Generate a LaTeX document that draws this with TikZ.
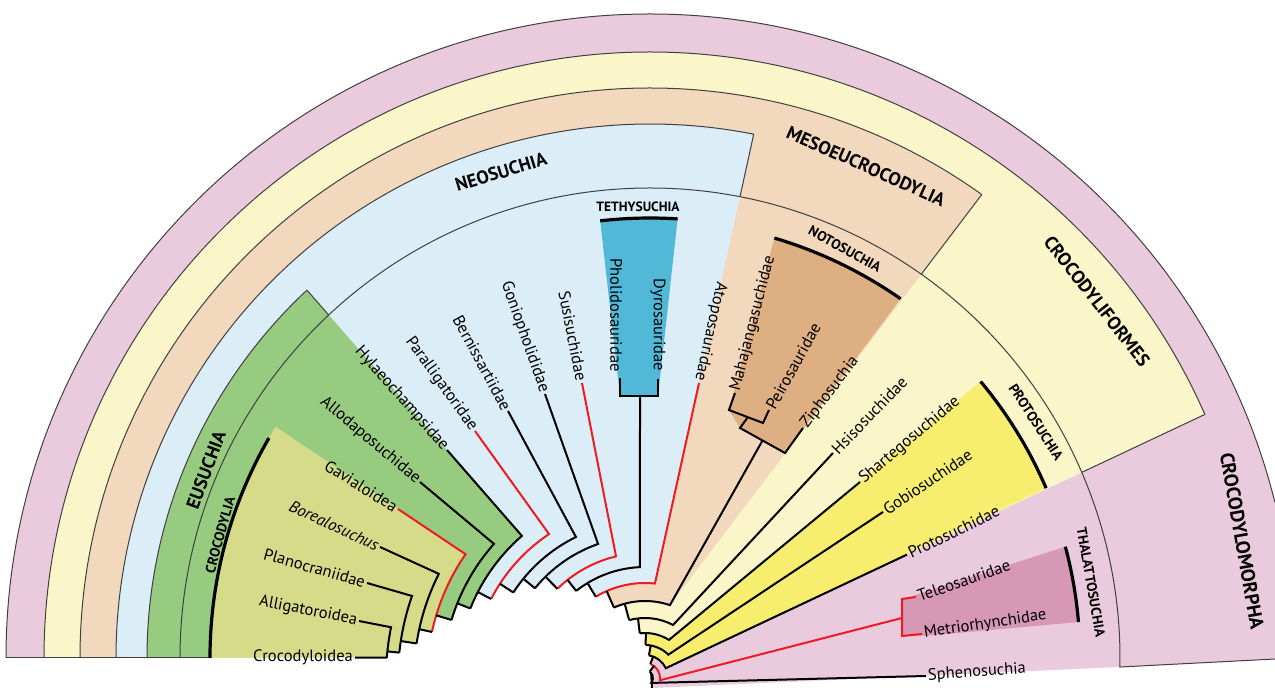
\documentclass[tikz,border=0pt]{standalone}
\usepackage{fontspec}
\setmainfont{PT Sans}
\definecolor{pinkC}{RGB}{234,203,221}
\definecolor{lyelC}{RGB}{250,246,201}
\definecolor{tanC}{RGB}{242,216,188}
\definecolor{blueC}{RGB}{219,237,247}
\definecolor{greenC}{RGB}{150,203,128}
\definecolor{ygC}{RGB}{214,219,137}
\definecolor{tethC}{RGB}{82,184,216}
\definecolor{notoC}{RGB}{222,175,130}
\definecolor{protoC}{RGB}{247,237,110}
\definecolor{thalC}{RGB}{214,152,181}
\definecolor{redC}{RGB}{237,28,36}
\tikzset{
  tx/.style={font=\fontsize{16.5}{16.5}\selectfont, inner sep=2pt},
  hd/.style={font=\bfseries\fontsize{18.5}{18.5}\selectfont, inner sep=0pt},
  hs/.style={font=\bfseries\fontsize{14}{14}\selectfont, inner sep=0pt},
  tree/.style={line width=2pt, line join=miter},
  rtree/.style={tree, draw=redC},
  edge/.style={line width=1pt, draw=black!75},
  bar/.style={line width=3.2pt},
}
\begin{document}
\begin{tikzpicture}[x=1pt,y=1pt]
\useasboundingbox (0,0) rectangle (1275,688);
\coordinate (O) at (650,30);
\coordinate (C) at (645,10);
% ---- coordinates around the outer centre O
\begin{scope}[shift={(650,30)}]
 \coordinate (P644) at (180:644);
 \coordinate (P606) at (180:606);
 \coordinate (P570) at (180:570);
 \coordinate (P534) at (180:534);
 \coordinate (P503) at (180:503);
 \coordinate (P470) at (180:470);
 \coordinate (P440) at (180:440);
 \coordinate (cYel) at (23.7:606);
 \coordinate (cTan) at (54.4:570);
 \coordinate (cBlue) at (78.8:534);
 \coordinate (cGreen) at (133:503);
 \coordinate (cYG) at (148.3:440);
 \coordinate (cCroc) at (150:440);
 \coordinate (T1) at (96.5:440);
 \coordinate (N1) at (73.5:438);
 \coordinate (PS1) at (39.9:431);
 \coordinate (H1) at (15:430);
 \coordinate (Rend) at (-1.1:470);
\end{scope}
% ---- tree elbows around the tree centre C
\begin{scope}[shift={(645,10)}]
 \coordinate (e1) at (175.5:259);
 \coordinate (e2) at (168.7:259);
 \coordinate (e3) at (160.6:247);
 \coordinate (e4) at (153.2:231);
 \coordinate (e5) at (145.4:218);
 \coordinate (e6) at (138.4:202);
 \coordinate (e7) at (130.9:188);
 \coordinate (e8) at (123.7:173);
 \coordinate (e9) at (116.1:157);
 \coordinate (e10) at (109.3:142);
 \coordinate (e11) at (103.4:125);
 \coordinate (e12) at (92.6:111);
 \coordinate (e13) at (84:95);
 \coordinate (e14) at (71.1:77);
 \coordinate (e15) at (62.1:60);
 \coordinate (e16) at (57.8:45);
 \coordinate (e16b) at (96.7:45);
 \coordinate (e17) at (45:33);
 \coordinate (e18) at (25.2:23);
 \coordinate (e19) at (-8.7:15);
 \coordinate (e20) at (-38:8);
\end{scope}
% ---- tips
\coordinate (tCro) at (355,30.3);
\coordinate (tAll) at (359,67);
\coordinate (tPla) at (367,105);
\coordinate (tBor) at (380,141);
\coordinate (tGav) at (398,179);
\coordinate (tAlo) at (420,206);
\coordinate (tHyl) at (447,238);
\coordinate (tPar) at (475,257);
\coordinate (tBer) at (508,277);
\coordinate (tGon) at (545,294);
\coordinate (tSus) at (582,305);
\coordinate (tTet) at (640,292);
\coordinate (tAto) at (699,305);
\coordinate (tMah) at (735,295);
\coordinate (tPei) at (769,278);
\coordinate (tZip) at (803,260);
\coordinate (tNot) at (762.5,247.5);
\coordinate (tHsi) at (833,235);
\coordinate (tSha) at (860,206);
\coordinate (tGob) at (883,176);
\coordinate (tPro) at (907,133.4);
\coordinate (tTha) at (902,70);
\coordinate (tTel) at (916,91);
\coordinate (tMet) at (922,54);
\coordinate (tSph) at (926,12);
\coordinate (root) at (652,0);

% ================= fills
\fill[pinkC] (P644) arc[start angle=180,end angle=14,radius=644] -- (1275,29) -- (Rend) -- (root) -- cycle;
\fill[lyelC] (P606) arc[start angle=180,end angle=23.7,radius=606] -- (e18) arc[start angle=25.2,end angle=80.1,radius=23] -- (C) -- cycle;
\fill[tanC] (P570) arc[start angle=180,end angle=54.4,radius=570] -- (e14) arc[start angle=71.1,end angle=113.8,radius=77] -- (C) -- cycle;
\fill[blueC] (P534) arc[start angle=180,end angle=78.8,radius=534] -- (e13) arc[start angle=84,end angle=121.2,radius=95] -- (C) -- cycle;
\fill[greenC] (P503) arc[start angle=180,end angle=133,radius=503] -- (e7) arc[start angle=130.9,end angle=158.3,radius=188] -- (C) -- cycle;
\fill[ygC] (P440) arc[start angle=180,end angle=148.3,radius=440] -- (e5) arc[start angle=145.4,end angle=167.8,radius=218] -- (C) -- cycle;
\fill[protoC] (e16b) arc[start angle=96.7,end angle=57.8,radius=45] -- (PS1) arc[start angle=39.9,end angle=23.2,radius=431] -- (e18) arc[start angle=25.2,end angle=80.1,radius=23] -- (C) -- cycle;
\fill[tethC] (T1) arc[start angle=96.5,end angle=86.4,radius=440] -- (658,292) -- (620,292) -- cycle;
\fill[notoC] (N1) arc[start angle=73.5,end angle=55.1,radius=438] -- (785,235) -- (740,260) -- (729,278) -- cycle;
\fill[thalC] (903,89) -- (H1) arc[start angle=15,end angle=4.8,radius=430] -- (930,52.5) -- (903,52) -- cycle;

% ================= central hole
\begin{scope}[shift={(645,10)}]
\fill[white] (175.5:259) arc[start angle=175.5,end angle=174.1,radius=259]
 -- (174.1:247) arc[start angle=174.1,end angle=171.4,radius=247]
 -- (171.4:231) arc[start angle=171.4,end angle=167.8,radius=231]
 -- (167.8:218) arc[start angle=167.8,end angle=163.3,radius=218]
 -- (163.3:202) arc[start angle=163.3,end angle=158.3,radius=202]
 -- (158.3:188) arc[start angle=158.3,end angle=152.8,radius=188]
 -- (152.8:173) arc[start angle=152.8,end angle=147,radius=173]
 -- (147:157) arc[start angle=147,end angle=140.8,radius=157]
 -- (140.8:142) arc[start angle=140.8,end angle=134.5,radius=142]
 -- (134.5:125) arc[start angle=134.5,end angle=128.3,radius=125]
 -- (128.3:111) arc[start angle=128.3,end angle=121.2,radius=111]
 -- (121.2:95) arc[start angle=121.2,end angle=113.8,radius=95]
 -- (113.8:77) arc[start angle=113.8,end angle=105.3,radius=77]
 -- (105.3:60) arc[start angle=105.3,end angle=96.7,radius=60]
 -- (96.7:45) arc[start angle=96.7,end angle=88.9,radius=45]
 -- (88.9:33) arc[start angle=88.9,end angle=80.1,radius=33]
 -- (80.1:23) arc[start angle=80.1,end angle=69.1,radius=23]
 -- (69.1:15) arc[start angle=69.1,end angle=53.5,radius=15]
 -- (53.5:8) arc[start angle=53.5,end angle=40,radius=8]
 -- (7,-10) -- (7,-20) -- (-660,-20) -- (-660,20) -- cycle;
\end{scope}

% ================= band outlines
\draw[edge] (P644) arc[start angle=180,end angle=14,radius=644];
\draw[edge] (P606) arc[start angle=180,end angle=23.7,radius=606];
\draw[edge] (P570) arc[start angle=180,end angle=54.4,radius=570];
\draw[edge] (P534) arc[start angle=180,end angle=78.8,radius=534];
\draw[edge] (P503) arc[start angle=180,end angle=133,radius=503];
\draw[edge] (P470) arc[start angle=180,end angle=-1.1,radius=470] -- (1275,29);
\draw[edge] (P644) -- (P440);
\begin{scope}[even odd rule]
 \clip (O) circle[radius=470] (O) circle[radius=1000];
 \draw[edge] (cYel) -- (e18);
 \draw[edge] (cTan) -- (e14);
 \draw[edge] (cBlue) -- (e13);
 \draw[edge] (cGreen) -- (e7);
\end{scope}

% ================= clade bars
\draw[bar] (cCroc) arc[start angle=150,end angle=180,radius=440];
\draw[bar] (T1) arc[start angle=96.5,end angle=86.4,radius=440];
\draw[bar] (N1) arc[start angle=73.5,end angle=55.1,radius=438];
\draw[bar] (PS1) arc[start angle=39.9,end angle=23.2,radius=431];
\draw[bar] (H1) arc[start angle=15,end angle=4.8,radius=430];

% ================= tree
\draw[tree] (tCro) -- (e1);
\draw[tree] (tAll) -- (e2) arc[start angle=168.7,end angle=175.5,radius=259];
\draw[tree] (tPla) -- (e3) arc[start angle=160.6,end angle=174.1,radius=247];
\draw[tree] (tBor) -- (e4) arc[start angle=153.2,end angle=171.4,radius=231];
\draw[rtree] (tGav) -- (e5) arc[start angle=145.4,end angle=167.8,radius=218];
\draw[tree] (tAlo) -- (e6) arc[start angle=138.4,end angle=163.3,radius=202];
\draw[tree] (tHyl) -- (e7) arc[start angle=130.9,end angle=158.3,radius=188];
\draw[rtree] (tPar) -- (e8) arc[start angle=123.7,end angle=152.8,radius=173];
\draw[tree] (tBer) -- (e9) arc[start angle=116.1,end angle=147,radius=157];
\draw[tree] (tGon) -- (e10) arc[start angle=109.3,end angle=140.8,radius=142];
\draw[rtree] (tSus) -- (e11) arc[start angle=103.4,end angle=134.5,radius=125];
\draw[tree] (tTet) -- (e12) arc[start angle=92.6,end angle=128.3,radius=111];
\draw[rtree] (tAto) -- (e13) arc[start angle=84,end angle=121.2,radius=95];
\draw[tree] (tNot) -- (e14) arc[start angle=71.1,end angle=113.8,radius=77];
\draw[tree] (tHsi) -- (e15) arc[start angle=62.1,end angle=105.3,radius=60];
\draw[tree] (tSha) -- (e16) arc[start angle=57.8,end angle=96.7,radius=45];
\draw[tree] (tGob) -- (e17) arc[start angle=45,end angle=88.9,radius=33];
\draw[tree] (tPro) -- (e18) arc[start angle=25.2,end angle=80.1,radius=23];
\draw[rtree] (tTha) -- (e19) arc[start angle=-8.7,end angle=69.1,radius=15];
\draw[tree] (tSph) -- (e20) arc[start angle=-38,end angle=53.5,radius=8];
\begin{scope}[shift={(645,10)}]
 \foreach \a/\ri/\ro in {174.1/247/259,171.4/231/247,167.8/218/231,163.3/202/218,158.3/188/202,152.8/173/188,147/157/173,140.8/142/157,134.5/125/142,128.3/111/125,121.2/95/111,113.8/77/95,105.3/60/77,96.7/45/60,88.9/33/45,80.1/23/33,69.1/15/23,53.5/8/15}
  \draw[tree] (\a:\ri) -- (\a:\ro);
 \draw[tree] (40:8) -- (7,-10);
\end{scope}
% brackets
\draw[tree] (620,310) -- (620,292) -- (658,292) -- (658,309);
\draw[tree] (tMah) -- (729,278) -- (763,265) -- (tPei);
\draw[tree] (748,271) -- (740,260) -- (785,235) -- (tZip);
\draw[rtree] (tTel) -- (902,89) -- (902,52) -- (tMet);

% ================= taxon labels
\node[tx,anchor=east] (lCro) at (tCro) {Crocodyloidea};
\node[tx,anchor=east,rotate=-11] (lAll) at (tAll) {Alligatoroidea};
\node[tx,anchor=east,rotate=-16] (lPla) at (tPla) {Planocraniidae};
\node[tx,anchor=east,rotate=-25] (lBor) at (tBor) {\itshape Borealosuchus};
\node[tx,anchor=east,rotate=-32] (lGav) at (tGav) {Gavialoidea};
\node[tx,anchor=east,rotate=-40] (lAlo) at (tAlo) {Allodaposuchidae};
\node[tx,anchor=east,rotate=-48.5] (lHyl) at (tHyl) {Hylaeochampsidae};
\node[tx,anchor=east,rotate=-54.3] (lPar) at (tPar) {Paralligatoridae};
\node[tx,anchor=east,rotate=-61.7] (lBer) at (tBer) {Bernissartiidae};
\node[tx,anchor=east,rotate=-70.5] (lGon) at (tGon) {Goniopholididae};
\node[tx,anchor=east,rotate=-78.9] (lSus) at (tSus) {Susisuchidae};
\node[tx,rotate=-90] (lPho) at (616,373) {Pholidosauridae};
\node[tx,rotate=-90] (lDyr) at (658,363) {Dyrosauridae};
\node[tx,anchor=east,rotate=-102.4] (lAto) at (tAto) {Atoposauridae};
\node[tx,anchor=west,rotate=75.5] (lMah) at (tMah) {Mahajangasuchidae};
\node[tx,anchor=west,rotate=61] (lPei) at (tPei) {Peirosauridae};
\node[tx,anchor=west,rotate=53] (lZip) at (tZip) {Ziphosuchia};
\node[tx,anchor=west,rotate=46] (lHsi) at (tHsi) {Hsisosuchidae};
\node[tx,anchor=west,rotate=40] (lSha) at (tSha) {Shartegosuchidae};
\node[tx,anchor=west,rotate=34] (lGob) at (tGob) {Gobiosuchidae};
\node[tx,anchor=west,rotate=26] (lPro) at (tPro) {Protosuchidae};
\node[tx,anchor=west,rotate=19] (lTel) at (tTel) {Teleosauridae};
\node[tx,anchor=west,rotate=8.6] (lMet) at (tMet) {Metriorhynchidae};
\node[tx,anchor=west,rotate=4] (lSph) at (tSph) {Sphenosuchia};

% ================= clade headings
\node[hd,rotate=17] (hNeo) at (501,516) {NEOSUCHIA};
\node[hd,rotate=-24] (hMes) at (866,522) {MESOEUCROCODYLIA};
\node[hd,rotate=-52] (hCfo) at (1097,387) {CROCODYLIFORMES};
\node[hd,rotate=-80,font=\bfseries\fontsize{19.5}{19.5}\selectfont] (hCmo) at (1242,147) {CROCODYLOMORPHA};
\node[hd,rotate=69.5] (hEus) at (206,218) {EUSUCHIA};
\node[hs,rotate=74.5] (hCro) at (220,153) {CROCODYLIA};
\node[hs,font=\bfseries\fontsize{13.5}{13.5}\selectfont] (hTet) at (638,481) {TETHYSUCHIA};
\node[hs,rotate=-29] (hNot) at (845,439) {NOTOSUCHIA};
\node[hs,rotate=-57] (hPro) at (1036,266) {PROTOSUCHIA};
\node[hs,rotate=-80] (hTha) at (1091,106) {THALATTOSUCHIA};
\end{tikzpicture}
\end{document}
